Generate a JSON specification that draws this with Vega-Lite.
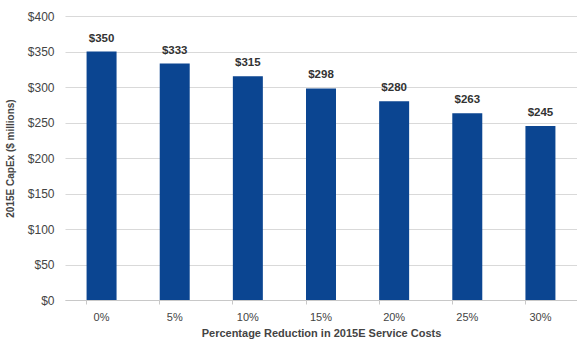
{
  "$schema": "https://vega.github.io/schema/vega-lite/v6.json",
  "autosize": "none",
  "width": 512,
  "height": 284,
  "padding": {"left": 65, "top": 16, "right": 0, "bottom": 44},
  "background": "white",
  "config": {"view": {"stroke": null}, "font": "Liberation Sans"},
  "data": {"values": [
    {"cut": "0%", "capex": 350},
    {"cut": "5%", "capex": 333},
    {"cut": "10%", "capex": 315},
    {"cut": "15%", "capex": 298},
    {"cut": "20%", "capex": 280},
    {"cut": "25%", "capex": 263},
    {"cut": "30%", "capex": 245}
  ]},
  "encoding": {
    "x": {"field": "cut", "type": "nominal", "sort": null,
      "scale": {"paddingInner": 0.59, "paddingOuter": 0.295},
      "axis": {"title": "Percentage Reduction in 2015E Service Costs", "labelAngle": 0,
        "labelFont": "Liberation Sans", "labelFontSize": 11, "labelColor": "#444", "labelPadding": 7,
        "titleFont": "Liberation Sans", "titleFontSize": 11, "titleColor": "#444", "titleFontWeight": "bold", "titlePadding": 5,
        "domainColor": "#c8c8c8", "tickColor": "#c8c8c8", "tickSize": 4, "bandPosition": 0, "grid": false}},
    "y": {"field": "capex", "type": "quantitative",
      "scale": {"domain": [0, 400]},
      "axis": {"title": "2015E CapEx ($ millions)", "values": [0,50,100,150,200,250,300,350,400],
        "format": "$,.0f", "labelFont": "Liberation Sans", "labelFontSize": 12, "labelColor": "#444", "labelPadding": 11,
        "titleFont": "Liberation Sans", "titleFontSize": 10, "titleColor": "#444", "titleFontWeight": "bold", "titlePadding": 12,
        "domain": false, "ticks": false, "gridColor": "#d9d9d9"}}
  },
  "layer": [
    {"mark": {"type": "bar", "color": "#0B4591"}},
    {"mark": {"type": "text", "dy": -13, "fontSize": 11.5, "font": "Liberation Sans", "fontWeight": "bold", "color": "#333"},
     "encoding": {"text": {"field": "capex", "type": "quantitative", "format": "$,.0f"}}}
  ]
}
